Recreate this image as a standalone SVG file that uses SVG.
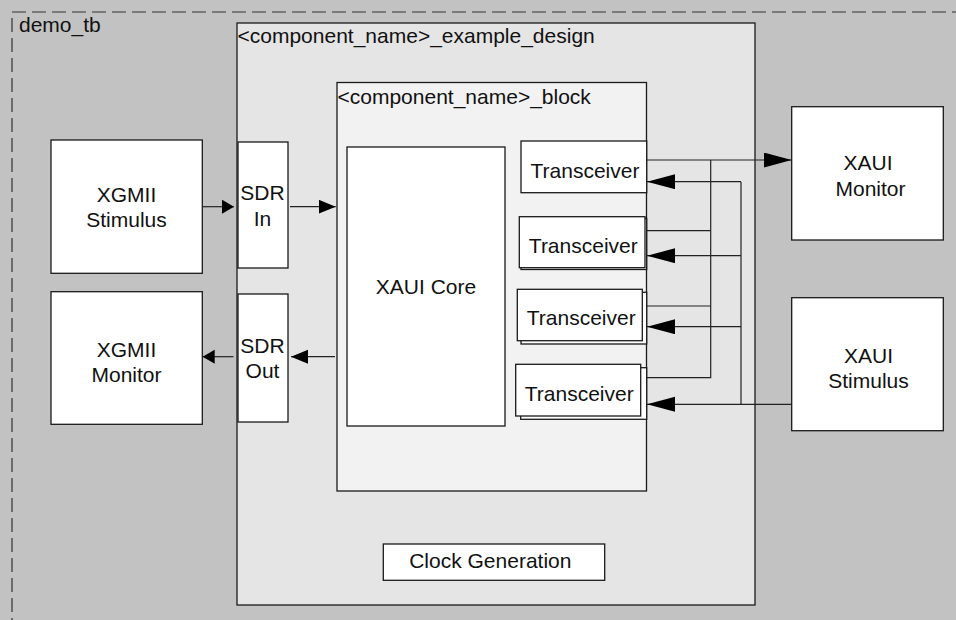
<svg xmlns="http://www.w3.org/2000/svg" width="956" height="620" viewBox="0 0 956 620">
<style>
text{font-family:"Liberation Sans",Arial,Helvetica,sans-serif;font-size:21px;fill:#111}
.c{text-anchor:middle}
.box{fill:#fff;stroke:#1a1a1a;stroke-width:1.3}
.wire{fill:none;stroke:#222;stroke-width:1.2}
</style>
<defs>
<marker id="ahBig" markerUnits="userSpaceOnUse" markerWidth="30" markerHeight="18" refX="28" refY="7.5" orient="auto"><polygon points="0,0 28,7.5 0,15" fill="#000"/></marker>
<marker id="ahMed" markerUnits="userSpaceOnUse" markerWidth="20" markerHeight="16" refX="17" refY="7" orient="auto"><polygon points="0,0 17,7 0,14" fill="#000"/></marker>
<marker id="ahSm" markerUnits="userSpaceOnUse" markerWidth="14" markerHeight="16" refX="12" refY="7" orient="auto"><polygon points="0,0 12,7 0,14" fill="#000"/></marker>
</defs>
<rect width="956" height="620" fill="#c2c2c2"/>
<g id="demo_tb">
<rect x="12" y="12" width="980" height="640" fill="#c2c2c2" stroke="#333" stroke-width="1.2" stroke-dasharray="14 6"/>
<text x="19" y="32">demo_tb</text>
</g>
<g id="example_design">
<rect x="237" y="23" width="518" height="582" fill="#e5e5e5" stroke="#1a1a1a" stroke-width="1.3"/>
<text x="237.5" y="43.3">&lt;component_name&gt;_example_design</text>
</g>
<g id="block">
<rect x="337" y="82.5" width="309.5" height="408.5" fill="#f2f2f2" stroke="#1a1a1a" stroke-width="1.3"/>
<text x="337.5" y="104.3">&lt;component_name&gt;_block</text>
</g>
<g id="xgmii_stimulus">
<rect class="box" x="51" y="140" width="151.3" height="133.3"/>
<text class="c" x="126.5" y="201.7">XGMII</text>
<text class="c" x="126.5" y="226.7">Stimulus</text>
</g>
<g id="xgmii_monitor">
<rect class="box" x="51" y="291.7" width="151.3" height="132.6"/>
<text class="c" x="126.5" y="356.7">XGMII</text>
<text class="c" x="126.5" y="381.7">Monitor</text>
</g>
<g id="sdr_in">
<rect class="box" x="238" y="142" width="50" height="126"/>
<text class="c" x="262.5" y="200">SDR</text>
<text class="c" x="262.5" y="225.7">In</text>
</g>
<g id="sdr_out">
<rect class="box" x="238" y="294" width="50" height="128"/>
<text class="c" x="262.5" y="352.7">SDR</text>
<text class="c" x="262.5" y="378.3">Out</text>
</g>
<g id="xaui_core">
<rect class="box" x="347" y="147" width="158" height="279"/>
<text class="c" x="426" y="294">XAUI Core</text>
</g>
<g id="transceiver1">
<rect class="box" x="521" y="141" width="125.7" height="51.7"/>
<text class="c" x="585" y="177.7">Transceiver</text>
</g>
<g id="transceiver2">
<rect class="box" x="521" y="218.5" width="125.7" height="51"/>
<rect class="box" x="519.3" y="216.7" width="125.7" height="51"/>
<text class="c" x="583.3" y="252.7">Transceiver</text>
</g>
<g id="transceiver3">
<rect class="box" x="521" y="292.3" width="125.7" height="51.7"/>
<rect class="box" x="517.3" y="289.3" width="125" height="51.4"/>
<text class="c" x="581.2" y="325">Transceiver</text>
</g>
<g id="transceiver4">
<rect class="box" x="520.7" y="367.7" width="126" height="51.6"/>
<rect class="box" x="515.7" y="364.3" width="125" height="51.7"/>
<text class="c" x="579.2" y="400.7">Transceiver</text>
</g>
<g id="xaui_monitor">
<rect class="box" x="791.7" y="106.7" width="151.6" height="133.3"/>
<text class="c" x="868" y="170">XAUI</text>
<text class="c" x="870.5" y="195.7">Monitor</text>
</g>
<g id="xaui_stimulus">
<rect class="box" x="791.7" y="297.7" width="151.6" height="133"/>
<text class="c" x="868.5" y="363.3">XAUI</text>
<text class="c" x="868.5" y="388.3">Stimulus</text>
</g>
<g id="clock_generation">
<rect class="box" x="383.3" y="544" width="221.4" height="36.3"/>
<text class="c" x="490.3" y="567.7">Clock Generation</text>
</g>
<g id="connectors">
<line class="wire" x1="202.3" y1="206.7" x2="234" y2="206.7" marker-end="url(#ahSm)"/>
<line class="wire" x1="290" y1="206.7" x2="335.7" y2="206.7" marker-end="url(#ahMed)"/>
<line class="wire" x1="335" y1="356.7" x2="291" y2="356.7" marker-end="url(#ahMed)"/>
<line class="wire" x1="233.5" y1="356.7" x2="202.7" y2="356.7" marker-end="url(#ahSm)"/>
<line class="wire" x1="646.7" y1="160" x2="791.7" y2="160" marker-end="url(#ahBig)"/>
<polyline class="wire" points="646.7,230.7 710.7,230.7"/>
<polyline class="wire" points="646.7,306 710.7,306"/>
<polyline class="wire" points="646.7,377.7 710.7,377.7 710.7,160"/>
<line class="wire" x1="791.7" y1="404.3" x2="647" y2="404.3" marker-end="url(#ahBig)"/>
<polyline class="wire" points="741,404.3 741,181.7"/>
<line class="wire" x1="741" y1="181.7" x2="647" y2="181.7" marker-end="url(#ahBig)"/>
<line class="wire" x1="741" y1="255.7" x2="647" y2="255.7" marker-end="url(#ahBig)"/>
<line class="wire" x1="741" y1="326.7" x2="647" y2="326.7" marker-end="url(#ahBig)"/>
</g>
</svg>
